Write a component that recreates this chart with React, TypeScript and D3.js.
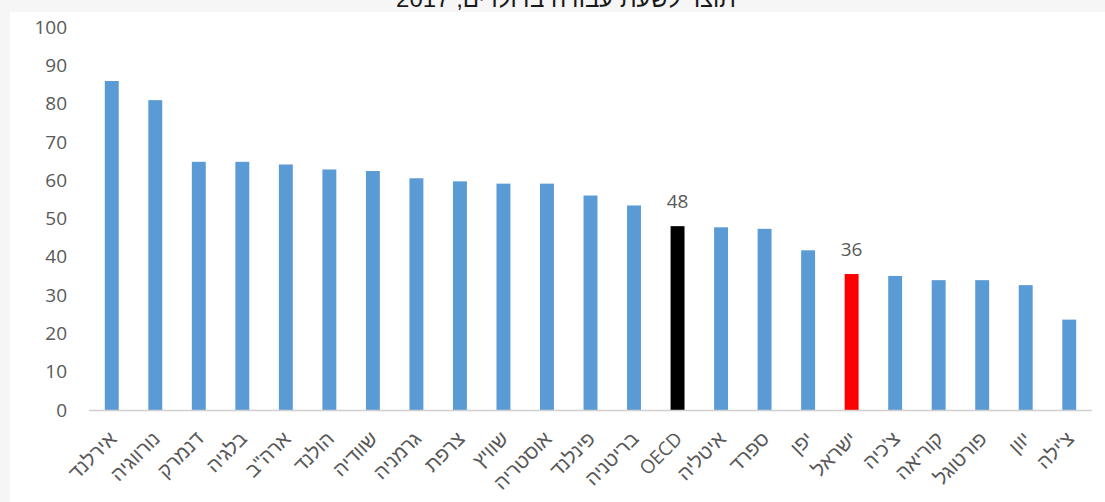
import React from "react";
import * as d3 from "d3";

// Labour productivity by country (output per hour worked, USD)
const countries = [
  "אירלנד", "נורווגיה", "דנמרק", "בלגיה", 'ארה"ב', "הולנד", "שוודיה", "גרמניה",
  "צרפת", "שוויץ", "אוסטריה", "פינלנד", "בריטניה", "OECD", "איטליה", "ספרד",
  "יפן", "ישראל", "צ'כיה", "קוריאה", "פורטוגל", "יוון", "צ'ילה",
];
const values = [
  85.9, 80.9, 64.8, 64.8, 64.1, 62.8, 62.4, 60.5, 59.7, 59.1, 59.1, 56.0,
  53.4, 48.0, 47.7, 47.3, 41.7, 35.5, 35.0, 33.9, 33.9, 32.6, 23.6,
];
const highlighted: Record<string, string> = { OECD: "#000000", "ישראל": "#ff0000" };
const labelled = ["OECD", "ישראל"];
const yTicks = [0, 10, 20, 30, 40, 50, 60, 70, 80, 90, 100];
const title = "תוצר לשעת עבודה בדולרים, 2017";

const W = 1105;
const H = 502;
const FONT = "'Open Sans', 'Liberation Sans', 'DejaVu Sans', sans-serif";
const HEB_FONT = "'Liberation Sans', 'DejaVu Sans', sans-serif";

const isLatin = (s: string) => /^[A-Za-z]+$/.test(s);

export default function App() {
  const x = d3
    .scaleBand<string>()
    .domain(countries)
    .range([90, 1091])
    .paddingInner(0.68)
    .paddingOuter(0.34);
  const y = d3.scaleLinear().domain([0, 100]).range([410, 27]);
  const fmt = d3.format(".0f");

  return (
    <svg
      width={W}
      height={H}
      style={{ position: "absolute", left: 0, top: 0, display: "block" }}
      fontFamily={FONT}
    >
      <rect x={0} y={0} width={W} height={H} fill="#f6f6f6" />
      <rect x={10} y={12} width={W - 10} height={H - 12} fill="#ffffff" />
      <text x={566} y={7} textAnchor="middle" fontSize={24} fontFamily={HEB_FONT} fill="#1a1a1a">
        {title}
      </text>

      {yTicks.map((t) => (
        <text
          key={t}
          x={67}
          y={y(t)}
          dy="0.35em"
          textAnchor="end"
          fontSize={19}
          fill="#595959"
        >
          {t}
        </text>
      ))}

      {countries.map((c, i) => (
        <rect
          key={c}
          x={x(c)}
          y={y(values[i])}
          width={x.bandwidth()}
          height={y(0) - y(values[i])}
          fill={highlighted[c] ?? "#5b9bd5"}
        />
      ))}

      <line x1={89} x2={1092} y1={410.5} y2={410.5} stroke="#d0d0d0" strokeWidth={1.5} />

      {countries.map((c, i) =>
        labelled.includes(c) ? (
          <text
            key={"v" + c}
            x={(x(c) ?? 0) + x.bandwidth() / 2}
            y={y(values[i]) - 18}
            textAnchor="middle"
            fontSize={19}
            fill="#595959"
          >
            {fmt(values[i])}
          </text>
        ) : null
      )}

      {countries.map((c) => {
        const cx = (x(c) ?? 0) + x.bandwidth() / 2;
        const latin = isLatin(c);
        return (
          <text
            key={"l" + c}
            transform={`translate(${cx + 6},${440}) rotate(-45)`}
            textAnchor="end"
            fontSize={latin ? 19 : 20}
            fontFamily={latin ? FONT : HEB_FONT}
            fill="#595959"
          >
            {c}
          </text>
        );
      })}
    </svg>
  );
}
